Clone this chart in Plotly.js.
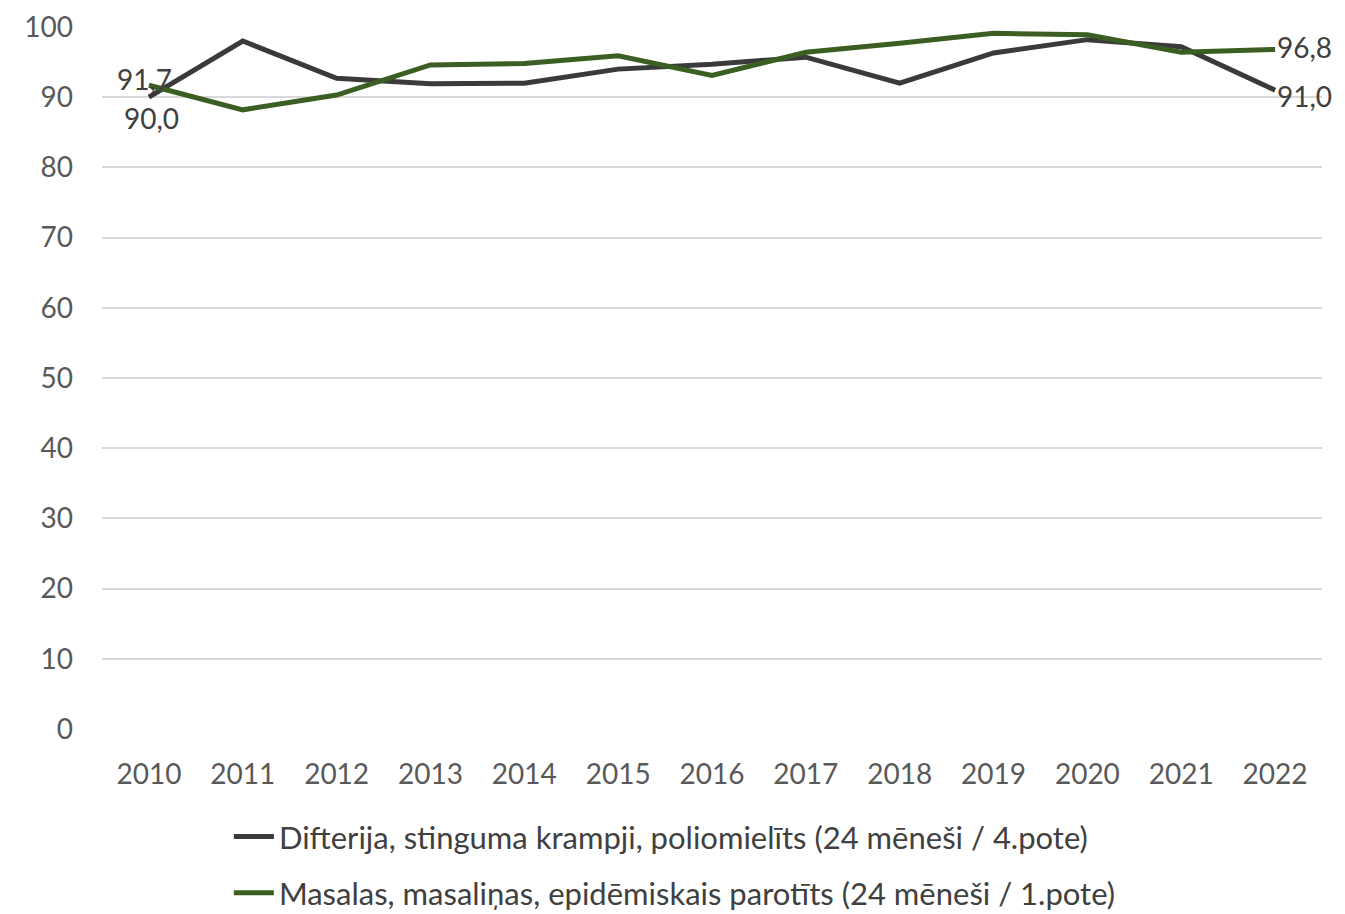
<!DOCTYPE html>
<html>
<head>
<meta charset="utf-8">
<script src="https://cdn.plot.ly/plotly-3.0.1.min.js"></script>
<style>html,body{margin:0;padding:0;background:#fff;}#chart{width:1345px;height:914px;}</style>
</head>
<body>
<div id="chart"></div>
<script>
const years = ['2010','2011','2012','2013','2014','2015','2016','2017','2018','2019','2020','2021','2022'];
const seriesDTP = [90.0, 98.0, 92.7, 91.9, 92.0, 94.0, 94.7, 95.7, 92.0, 96.3, 98.2, 97.2, 91.0];
const seriesMMR = [91.7, 88.2, 90.3, 94.6, 94.8, 95.9, 93.1, 96.4, 97.7, 99.1, 98.9, 96.4, 96.8];
const nameDTP = 'Difterija, stinguma krampji, poliomielīts (24 mēneši / 4.pote)';
const nameMMR = 'Masalas, masaliņas, epidēmiskais parotīts (24 mēneši / 1.pote)';
const yTicks = [0,10,20,30,40,50,60,70,80,90,100];

const fmt = v => v.toFixed(1).replace('.', ',');
const darkCol = '#3a3a3a';
const greenCol = '#3b5e22';
const fontFam = 'Lato, "Open Sans", sans-serif';

const traces = [
  {x: years, y: seriesDTP, type: 'scatter', mode: 'lines', name: nameDTP,
   line: {color: darkCol, width: 5}, legendgroup: 'a'},
  {x: years, y: seriesMMR, type: 'scatter', mode: 'lines', name: nameMMR,
   line: {color: greenCol, width: 5}, legendgroup: 'b'}
];

const last = years.length - 1;
const annFont = {family: fontFam, size: 28, color: '#404040'};
const annotations = [
  {xref: 'x', yref: 'y', x: 0, y: seriesMMR[0], text: fmt(seriesMMR[0]), showarrow: false, xanchor: 'center', yanchor: 'bottom', xshift: -4, yshift: -13, font: annFont},
  {xref: 'x', yref: 'y', x: 0, y: seriesDTP[0], text: fmt(seriesDTP[0]), showarrow: false, xanchor: 'center', yanchor: 'top', xshift: 3, yshift: -2, font: annFont},
  {xref: 'x', yref: 'y', x: last, y: seriesMMR[last], text: fmt(seriesMMR[last]), showarrow: false, xanchor: 'left', yanchor: 'middle', xshift: 0, yshift: 2, font: annFont},
  {xref: 'x', yref: 'y', x: last, y: seriesDTP[last], text: fmt(seriesDTP[last]), showarrow: false, xanchor: 'left', yanchor: 'middle', xshift: 0, yshift: -6, font: annFont}
];

const layout = {
  width: 1345, height: 914,
  margin: {l: 102, r: 23, t: 27, b: 185},
  paper_bgcolor: '#ffffff', plot_bgcolor: '#ffffff',
  font: {family: fontFam, size: 28, color: '#595959'},
  xaxis: {type: 'category', range: [-0.5, 12.5], showgrid: false, zeroline: false, showline: false,
          ticks: '', tickfont: {family: fontFam, size: 28, color: '#595959'}, ticklabelstandoff: 26, fixedrange: true},
  yaxis: {range: [0, 100], tickvals: yTicks, ticktext: yTicks.map(String), showgrid: true, gridcolor: '#d9d9d9', gridwidth: 2,
          zeroline: false, showline: false, ticks: '', tickfont: {family: fontFam, size: 28, color: '#595959'},
          ticklabelstandoff: 28, fixedrange: true},
  showlegend: true,
  legend: {orientation: 'v', xref: 'paper', x: 0.104, xanchor: 'left', yref: 'container', y: 0.114, yanchor: 'top',
           font: {family: fontFam, size: 31, color: '#404040'}, traceorder: 'grouped', tracegroupgap: 13,
           itemwidth: 40, bgcolor: 'rgba(0,0,0,0)'},
  annotations: annotations
};

Plotly.newPlot('chart', traces, layout, {displayModeBar: false});
</script>
</body>
</html>
